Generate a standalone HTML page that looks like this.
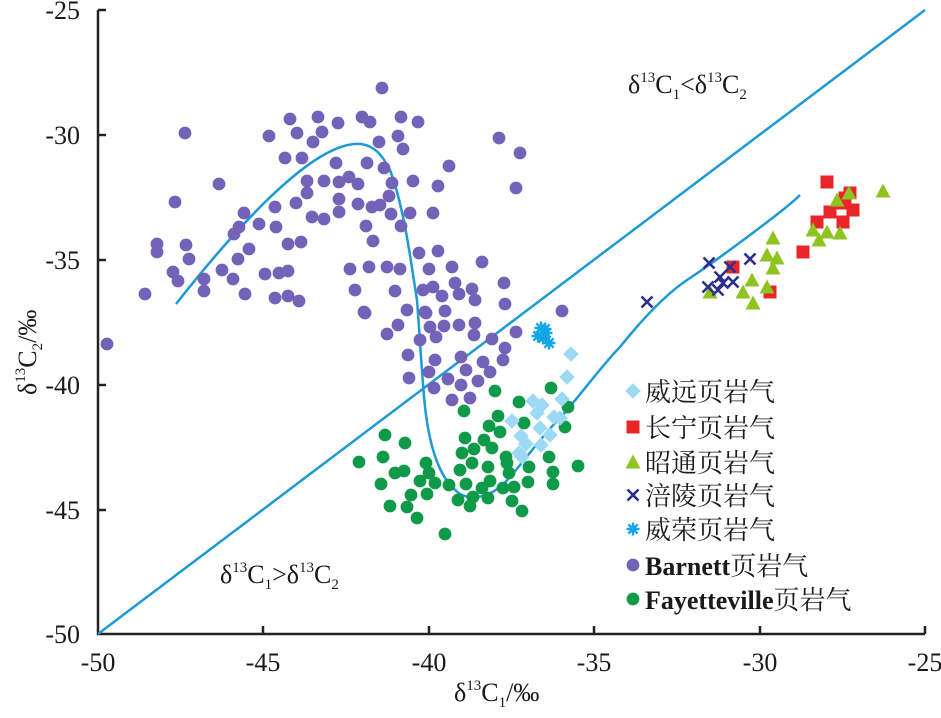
<!DOCTYPE html>
<html><head><meta charset="utf-8"><style>
html,body{margin:0;padding:0;background:#fff;}
svg text{font-family:"Liberation Serif","Noto Serif CJK SC",serif;fill:#1a1a1a;}
.t{font-size:26px;font-family:"Liberation Sans Narrow","Liberation Sans",sans-serif;}
</style></head><body>
<svg width="941" height="713" viewBox="0 0 941 713" xmlns="http://www.w3.org/2000/svg">
<defs>
<circle id="p" r="6.4" fill="#7262b8"/>
<circle id="g" r="6.4" fill="#0f9a4a"/>
<rect id="d" x="-5.5" y="-5.5" width="11" height="11" fill="#9cd9f4" transform="rotate(45)"/>
<rect id="r" x="-6.5" y="-6.5" width="13" height="13" fill="#e8262a"/>
<polygon id="tr" points="0,-7.5 7.5,6.5 -7.5,6.5" fill="#8fc31f"/>
<path id="x" d="M-5.5,-5.5L5.5,5.5M5.5,-5.5L-5.5,5.5" stroke="#2b2e8c" stroke-width="2.6"/>
<path id="a" d="M-6.5,0H6.5M0,-6.5V6.5M-4.6,-4.6L4.6,4.6M4.6,-4.6L-4.6,4.6" stroke="#10a7e4" stroke-width="2.4"/>
</defs>
<g stroke="#222" stroke-width="2.5" fill="none">
<path d="M98,10V634H925"/>
<path d="M98,10h8M98,135h8M98,260h8M98,385h8M98,510h8"/>
<path d="M263,634v-8M429,634v-8M594,634v-8M760,634v-8M925,634v-8"/>
</g>
<g class="t" text-anchor="end">
<text x="80" y="19">-25</text><text x="80" y="144">-30</text><text x="80" y="269">-35</text><text x="80" y="394">-40</text><text x="80" y="519">-45</text><text x="80" y="643">-50</text>
</g>
<g class="t" text-anchor="middle">
<text x="98" y="671">-50</text><text x="263" y="671">-45</text><text x="429" y="671">-40</text><text x="594" y="671">-35</text><text x="760" y="671">-30</text><text x="925" y="671">-25</text>
</g>
<text x="454" y="701" font-size="26">δ<tspan font-size="15" dy="-11">13</tspan><tspan dy="11">C</tspan><tspan font-size="15" dy="6">1</tspan><tspan dy="-6">/‰</tspan></text>
<text transform="translate(36,395) rotate(-90)" font-size="26">δ<tspan font-size="15" dy="-11">13</tspan><tspan dy="11">C</tspan><tspan font-size="15" dy="6">2</tspan><tspan dy="-6">/‰</tspan></text>
<text x="628" y="93" font-size="26">δ<tspan font-size="15" dy="-11">13</tspan><tspan dy="11">C</tspan><tspan font-size="15" dy="6">1</tspan><tspan dy="-6">&lt;δ</tspan><tspan font-size="15" dy="-11">13</tspan><tspan dy="11">C</tspan><tspan font-size="15" dy="6">2</tspan></text>
<text x="220" y="583" font-size="26">δ<tspan font-size="15" dy="-11">13</tspan><tspan dy="11">C</tspan><tspan font-size="15" dy="6">1</tspan><tspan dy="-6">&gt;δ</tspan><tspan font-size="15" dy="-11">13</tspan><tspan dy="11">C</tspan><tspan font-size="15" dy="6">2</tspan></text>
<g stroke="#1b9ad6" stroke-width="2.5" fill="none">
<path d="M98,634L925,10"/>
<path d="M176,304C250,210 320,140 361,144C375,146 382,155 390,170C405,210 412,270 417,300C420,340 423,390 425,407C430,450 440,480 460,494C475,502 495,495 510,477C525,460 545,432 563,415C580,395 605,362 620,347C640,322 665,295 687,280C710,265 730,250 750,235C770,220 790,205 800,195"/>
</g>
<g>
<use href="#p" x="382" y="88"/><use href="#p" x="290" y="119"/><use href="#p" x="318" y="117"/><use href="#p" x="338" y="123"/><use href="#p" x="362" y="117"/><use href="#p" x="370" y="122"/><use href="#p" x="401" y="117"/><use href="#p" x="418" y="122"/><use href="#p" x="185" y="133"/><use href="#p" x="269" y="136"/><use href="#p" x="297" y="133"/><use href="#p" x="322" y="132"/><use href="#p" x="313" y="142"/><use href="#p" x="379" y="142"/><use href="#p" x="398" y="136"/><use href="#p" x="403" y="149"/><use href="#p" x="499" y="138"/><use href="#p" x="520" y="153"/><use href="#p" x="285" y="158"/><use href="#p" x="302" y="158"/><use href="#p" x="336" y="163"/><use href="#p" x="367" y="163"/><use href="#p" x="384" y="168"/><use href="#p" x="449" y="166"/><use href="#p" x="219" y="184"/><use href="#p" x="307" y="181"/><use href="#p" x="324" y="181"/><use href="#p" x="339" y="182"/><use href="#p" x="349" y="177"/><use href="#p" x="358" y="184"/><use href="#p" x="392" y="183"/><use href="#p" x="413" y="181"/><use href="#p" x="438" y="186"/><use href="#p" x="516" y="188"/><use href="#p" x="175" y="202"/><use href="#p" x="307" y="193"/><use href="#p" x="339" y="199"/><use href="#p" x="389" y="196"/><use href="#p" x="296" y="203"/><use href="#p" x="275" y="207"/><use href="#p" x="358" y="204"/><use href="#p" x="372" y="207"/><use href="#p" x="380" y="205"/><use href="#p" x="244" y="213"/><use href="#p" x="339" y="212"/><use href="#p" x="391" y="214"/><use href="#p" x="410" y="213"/><use href="#p" x="433" y="213"/><use href="#p" x="239" y="227"/><use href="#p" x="234" y="234"/><use href="#p" x="259" y="224"/><use href="#p" x="276" y="227"/><use href="#p" x="312" y="217"/><use href="#p" x="324" y="219"/><use href="#p" x="366" y="226"/><use href="#p" x="401" y="226"/><use href="#p" x="373" y="241"/><use href="#p" x="157" y="244"/><use href="#p" x="157" y="252"/><use href="#p" x="186" y="245"/><use href="#p" x="249" y="249"/><use href="#p" x="288" y="244"/><use href="#p" x="301" y="242"/><use href="#p" x="419" y="253"/><use href="#p" x="438" y="251"/><use href="#p" x="189" y="259"/><use href="#p" x="238" y="259"/><use href="#p" x="482" y="262"/><use href="#p" x="173" y="272"/><use href="#p" x="178" y="281"/><use href="#p" x="204" y="279"/><use href="#p" x="204" y="291"/><use href="#p" x="222" y="270"/><use href="#p" x="233" y="279"/><use href="#p" x="265" y="274"/><use href="#p" x="279" y="273"/><use href="#p" x="288" y="271"/><use href="#p" x="350" y="269"/><use href="#p" x="369" y="267"/><use href="#p" x="387" y="267"/><use href="#p" x="400" y="269"/><use href="#p" x="429" y="269"/><use href="#p" x="452" y="267"/><use href="#p" x="455" y="283"/><use href="#p" x="472" y="289"/><use href="#p" x="475" y="300"/><use href="#p" x="504" y="283"/><use href="#p" x="505" y="304"/><use href="#p" x="145" y="294"/><use href="#p" x="245" y="294"/><use href="#p" x="275" y="298"/><use href="#p" x="288" y="296"/><use href="#p" x="299" y="301"/><use href="#p" x="355" y="290"/><use href="#p" x="395" y="291"/><use href="#p" x="423" y="290"/><use href="#p" x="433" y="287"/><use href="#p" x="442" y="296"/><use href="#p" x="459" y="294"/><use href="#p" x="364" y="312"/><use href="#p" x="407" y="310"/><use href="#p" x="425" y="312"/><use href="#p" x="445" y="311"/><use href="#p" x="107" y="344"/><use href="#p" x="387" y="334"/><use href="#p" x="398" y="325"/><use href="#p" x="430" y="327"/><use href="#p" x="444" y="326"/><use href="#p" x="459" y="325"/><use href="#p" x="475" y="323"/><use href="#p" x="474" y="335"/><use href="#p" x="516" y="332"/><use href="#p" x="420" y="340"/><use href="#p" x="436" y="337"/><use href="#p" x="492" y="339"/><use href="#p" x="505" y="348"/><use href="#p" x="408" y="355"/><use href="#p" x="435" y="360"/><use href="#p" x="461" y="357"/><use href="#p" x="483" y="362"/><use href="#p" x="503" y="360"/><use href="#p" x="409" y="378"/><use href="#p" x="429" y="372"/><use href="#p" x="466" y="370"/><use href="#p" x="490" y="372"/><use href="#p" x="448" y="379"/><use href="#p" x="461" y="385"/><use href="#p" x="478" y="381"/><use href="#p" x="434" y="388"/><use href="#p" x="452" y="400"/><use href="#p" x="470" y="398"/><use href="#p" x="365" y="313"/><use href="#p" x="426" y="313"/><use href="#p" x="562" y="311"/>
</g>
<g>
<use href="#g" x="495" y="391"/><use href="#g" x="551" y="388"/><use href="#g" x="519" y="402"/><use href="#g" x="464" y="411"/><use href="#g" x="568" y="407"/><use href="#g" x="498" y="416"/><use href="#g" x="489" y="426"/><use href="#g" x="500" y="432"/><use href="#g" x="524" y="423"/><use href="#g" x="565" y="427"/><use href="#g" x="385" y="435"/><use href="#g" x="405" y="443"/><use href="#g" x="465" y="438"/><use href="#g" x="484" y="440"/><use href="#g" x="492" y="448"/><use href="#g" x="474" y="449"/><use href="#g" x="462" y="453"/><use href="#g" x="359" y="462"/><use href="#g" x="383" y="457"/><use href="#g" x="472" y="463"/><use href="#g" x="506" y="457"/><use href="#g" x="507" y="463"/><use href="#g" x="549" y="457"/><use href="#g" x="578" y="466"/><use href="#g" x="395" y="473"/><use href="#g" x="404" y="471"/><use href="#g" x="426" y="463"/><use href="#g" x="429" y="473"/><use href="#g" x="460" y="470"/><use href="#g" x="488" y="467"/><use href="#g" x="509" y="473"/><use href="#g" x="529" y="467"/><use href="#g" x="553" y="472"/><use href="#g" x="381" y="484"/><use href="#g" x="420" y="481"/><use href="#g" x="435" y="483"/><use href="#g" x="449" y="485"/><use href="#g" x="466" y="484"/><use href="#g" x="490" y="481"/><use href="#g" x="503" y="488"/><use href="#g" x="514" y="487"/><use href="#g" x="528" y="482"/><use href="#g" x="553" y="484"/><use href="#g" x="411" y="495"/><use href="#g" x="427" y="494"/><use href="#g" x="458" y="500"/><use href="#g" x="473" y="497"/><use href="#g" x="482" y="488"/><use href="#g" x="488" y="498"/><use href="#g" x="512" y="501"/><use href="#g" x="390" y="506"/><use href="#g" x="407" y="507"/><use href="#g" x="470" y="506"/><use href="#g" x="522" y="511"/><use href="#g" x="417" y="518"/><use href="#g" x="445" y="534"/>
</g>
<g>
<use href="#d" x="571" y="354"/><use href="#d" x="567" y="377"/><use href="#d" x="562" y="399"/><use href="#d" x="533" y="401"/><use href="#d" x="542" y="405"/><use href="#d" x="537" y="413"/><use href="#d" x="512" y="421"/><use href="#d" x="554" y="417"/><use href="#d" x="560" y="418"/><use href="#d" x="540" y="428"/><use href="#d" x="550" y="435"/><use href="#d" x="521" y="436"/><use href="#d" x="526" y="444"/><use href="#d" x="541" y="445"/><use href="#d" x="519" y="453"/><use href="#d" x="522" y="457"/>
</g>
<g><use href="#a" x="541" y="328"/><use href="#a" x="546" y="333"/><use href="#a" x="543" y="338"/><use href="#a" x="549" y="343"/><use href="#a" x="538" y="336"/><use href="#a" x="545" y="329"/></g>
<g>
<use href="#r" x="827" y="182"/><use href="#r" x="850" y="193"/><use href="#r" x="843" y="203"/><use href="#r" x="853" y="210"/><use href="#r" x="830" y="212"/><use href="#r" x="843" y="222"/><use href="#r" x="817" y="222"/><use href="#r" x="803" y="252"/><use href="#r" x="733" y="267"/><use href="#r" x="770" y="292"/><use href="#r" x="845" y="198"/>
</g>
<g>
<use href="#tr" x="883" y="191"/><use href="#tr" x="849" y="193"/><use href="#tr" x="837" y="200"/><use href="#tr" x="813" y="230"/><use href="#tr" x="827" y="232"/><use href="#tr" x="840" y="233"/><use href="#tr" x="819" y="240"/><use href="#tr" x="773" y="238"/><use href="#tr" x="767" y="255"/><use href="#tr" x="777" y="258"/><use href="#tr" x="773" y="268"/><use href="#tr" x="752" y="280"/><use href="#tr" x="767" y="287"/><use href="#tr" x="743" y="292"/><use href="#tr" x="753" y="303"/><use href="#tr" x="710" y="292"/>
</g>
<g>
<use href="#x" x="647" y="302"/><use href="#x" x="709" y="263"/><use href="#x" x="730" y="267"/><use href="#x" x="750" y="259"/><use href="#x" x="720" y="277"/><use href="#x" x="733" y="282"/><use href="#x" x="708" y="287"/><use href="#x" x="718" y="290"/><use href="#x" x="723" y="283"/>
</g>
<g>
<use href="#d" x="633" y="391"/><use href="#r" x="633" y="427"/><use href="#tr" x="633" y="462"/><use href="#x" x="633" y="495"/><use href="#a" x="633" y="529"/><use href="#p" x="633" y="565"/><use href="#g" x="633" y="599"/>
</g>
<g font-size="26" style="font-family:'Liberation Serif','Noto Sans CJK SC',serif">
<text x="645" y="401">威远页岩气</text>
<text x="645" y="437">长宁页岩气</text>
<text x="645" y="472">昭通页岩气</text>
<text x="645" y="505">涪陵页岩气</text>
<text x="645" y="539">威荣页岩气</text>
<text x="645" y="575" font-weight="bold">Barnett<tspan font-weight="normal">页岩气</tspan></text>
<text x="645" y="609" font-weight="bold">Fayetteville<tspan font-weight="normal">页岩气</tspan></text>
</g>
</svg>
</body></html>
